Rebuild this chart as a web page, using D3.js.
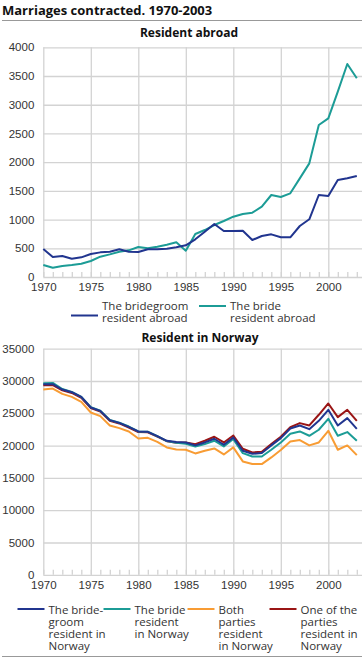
<!DOCTYPE html>
<html>
<head>
<meta charset="utf-8">
<script src="https://cdn.jsdelivr.net/npm/d3@7"></script>
<style>
  body { margin: 0; background: #fff; }
  svg { font-family: "Open Sans", sans-serif; }
  .tick text { fill: #333; font-size: 11.5px; }
</style>
</head>
<body>
<script>
// chart data
const years = [1970, 1971, 1972, 1973, 1974, 1975, 1976, 1977, 1978, 1979,
  1980, 1981, 1982, 1983, 1984, 1985, 1986, 1987, 1988, 1989,
  1990, 1991, 1992, 1993, 1994, 1995, 1996, 1997, 1998, 1999,
  2000, 2001, 2002, 2003]
const xTickYears = [1970, 1975, 1980, 1985, 1990, 1995, 2000]

const groomAbroad = [487, 348, 366, 319, 342, 400, 429, 441, 482, 441,
  435, 482, 482, 493, 517, 552, 656, 789, 923, 801,
  801, 806, 644, 714, 743, 691, 691, 888, 1005, 1428,
  1410, 1689, 1718, 1759]
const brideAbroad = [209, 162, 191, 209, 232, 279, 354, 394, 441, 464,
  522, 500, 528, 563, 604, 458, 749, 818, 905, 975,
  1050, 1097, 1120, 1224, 1428, 1393, 1457, 1718, 1979, 2647,
  2763, 3227, 3709, 3460]
const abroadTicks = [0, 500, 1000, 1500, 2000, 2500, 3000, 3500, 4000]

const groomNorway = [29500, 29500, 28680, 28270, 27540, 25900, 25380, 23940, 23520, 22900,
  22190, 22130, 21460, 20740, 20550, 20490, 20030, 20490, 21060, 20130,
  21260, 19200, 18730, 18840, 20030, 21160, 22650, 23120, 22550, 23840,
  25540, 23120, 24250, 22600]
const brideNorway = [29650, 29700, 28750, 28300, 27550, 25950, 25400, 23950, 23550, 22950,
  22200, 22150, 21450, 20700, 20450, 20280, 19870, 20230, 20750, 19870,
  21010, 18840, 18320, 18320, 19360, 20490, 21830, 22190, 21520, 22450,
  24150, 21520, 22090, 20750]
const bothNorway = [28680, 28830, 28000, 27540, 26770, 25130, 24560, 23120, 22700, 22190,
  21100, 21200, 20580, 19720, 19400, 19360, 18790, 19200, 19560, 18630,
  19720, 17550, 17140, 17140, 18170, 19310, 20650, 20850, 20030, 20490,
  22290, 19360, 20030, 18530]
const oneNorway = [29350, 29350, 28550, 28150, 27400, 25800, 25280, 23850, 23430, 22800,
  22100, 22050, 21380, 20680, 20450, 20490, 20230, 20750, 21370, 20490,
  21570, 19510, 18940, 19050, 20230, 21370, 22860, 23480, 23120, 24770,
  26520, 24410, 25540, 23840]
const norwayTicks = [0, 5000, 10000, 15000, 20000, 25000, 30000, 35000]

const blue = '#21358f', teal = '#1c9c96', orange = '#f89c34', red = '#9a1515'
const gridColor = '#d3d3d3'

const width = 364, height = 664
const left = 43.3, right = 356.8, gridRight = 362

const svg = d3.select('body').append('svg')
  .attr('width', width)
  .attr('height', height)

// title + rules
svg.append('text')
  .attr('x', 2).attr('y', 15)
  .style('font-size', '13px').style('font-weight', 'bold').attr('fill', '#111')
  .text('Marriages contracted. 1970-2003')
svg.append('line').attr('x1', 2).attr('x2', 362).attr('y1', 20.5).attr('y2', 20.5)
  .attr('stroke', '#999').attr('stroke-width', 1)
svg.append('line').attr('x1', 2).attr('x2', 362).attr('y1', 656.5).attr('y2', 656.5)
  .attr('stroke', '#999').attr('stroke-width', 1)

const xScale = d3.scaleLinear()
  .domain([1970, 2003])
  .range([left, right])

function drawPanel(opt) {
  const yScale = d3.scaleLinear()
    .domain([0, opt.max])
    .range([opt.base, opt.top])

  // subtitle
  svg.append('text')
    .attr('x', opt.titleX).attr('y', opt.titleY)
    .attr('text-anchor', 'middle')
    .style('font-size', '12px').style('font-weight', 'bold').attr('fill', '#111')
    .text(opt.title)

  // horizontal grid + y labels
  const yAxis = svg.append('g')
    .attr('transform', 'translate(' + left + ',0)')
    .call(d3.axisLeft(yScale).tickValues(opt.ticks).tickFormat(d3.format('d'))
      .tickSize(-(gridRight - left)).tickPadding(9))
  yAxis.select('.domain').remove()
  yAxis.selectAll('.tick line').attr('stroke', gridColor).attr('stroke-width', 1.3)

  // vertical grid
  const xGrid = svg.append('g')
    .attr('transform', 'translate(0,' + opt.base + ')')
    .call(d3.axisBottom(xScale).tickValues(xTickYears).tickSize(-(opt.base - opt.top)).tickFormat(''))
  xGrid.select('.domain').remove()
  xGrid.selectAll('.tick line').attr('stroke', gridColor).attr('stroke-width', 1.3)

  // minor year ticks
  const minor = svg.append('g')
    .attr('transform', 'translate(0,' + opt.base + ')')
    .call(d3.axisBottom(xScale).tickValues(years).tickSize(-5).tickFormat(''))
  minor.select('.domain').remove()
  minor.selectAll('.tick line').attr('stroke', gridColor).attr('stroke-width', 1.3)

  // x labels
  const xAxis = svg.append('g')
    .attr('transform', 'translate(0,' + opt.base + ')')
    .call(d3.axisBottom(xScale).tickValues(xTickYears).tickFormat(d3.format('d')).tickSize(0).tickPadding(6))
  xAxis.select('.domain').remove()

  const line = d3.line()
    .x((d, i) => xScale(years[i]))
    .y(d => yScale(d))

  opt.series.forEach(s => {
    svg.append('path')
      .datum(s.values)
      .attr('d', line)
      .attr('fill', 'none')
      .attr('stroke', s.color)
      .attr('stroke-width', 2)
      .attr('stroke-linejoin', 'round')
  })

  // legend
  opt.legend.forEach(item => {
    svg.append('line')
      .attr('x1', item.x).attr('x2', item.x + 27)
      .attr('y1', item.ly).attr('y2', item.ly)
      .attr('stroke', item.color).attr('stroke-width', 2)
    const t = svg.append('text')
      .attr('x', item.x + 31).attr('y', item.ty)
      .style('font-size', '11.5px').attr('fill', '#333')
    item.lines.forEach((l, i) => {
      t.append('tspan').attr('x', item.x + 31).attr('dy', i === 0 ? 0 : 12).text(l)
    })
  })
}

drawPanel({
  title: 'Resident abroad', titleX: 189, titleY: 37,
  max: 4000, top: 47.3, base: 277, ticks: abroadTicks,
  series: [
    { values: brideAbroad, color: teal },
    { values: groomAbroad, color: blue }
  ],
  legend: [
    { x: 71, ly: 315.5, ty: 310, color: blue, lines: ['The bridegroom', 'resident abroad'] },
    { x: 199, ly: 306, ty: 310, color: teal, lines: ['The bride', 'resident abroad'] }
  ]
})

drawPanel({
  title: 'Resident in Norway', titleX: 200, titleY: 342,
  max: 35000, top: 348.7, base: 574.8, ticks: norwayTicks,
  series: [
    { values: oneNorway, color: red },
    { values: bothNorway, color: orange },
    { values: brideNorway, color: teal },
    { values: groomNorway, color: blue }
  ],
  legend: [
    { x: 17.5, ly: 609, ty: 614, color: blue, lines: ['The bride-', 'groom', 'resident in', 'Norway'] },
    { x: 103.5, ly: 609, ty: 614, color: teal, lines: ['The bride', 'resident', 'in Norway'] },
    { x: 187.5, ly: 609, ty: 614, color: orange, lines: ['Both', 'parties', 'resident', 'in Norway'] },
    { x: 269.5, ly: 609, ty: 614, color: red, lines: ['One of the', 'parties', 'resident in', 'Norway'] }
  ]
})
</script>
</body>
</html>
